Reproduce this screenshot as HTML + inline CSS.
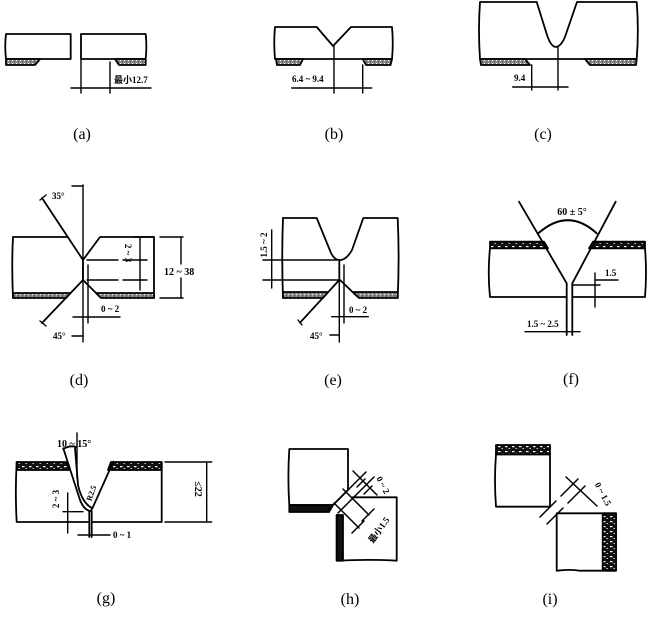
<!DOCTYPE html>
<html><head><meta charset="utf-8"><style>
html,body{margin:0;padding:0;background:#fff;}
svg{display:block;}
.t{font-family:"Liberation Serif","Noto Serif CJK SC",serif;font-size:9px;font-weight:bold;fill:#000;stroke:none;}
.l{font-family:"Liberation Serif",serif;font-size:16px;fill:#000;stroke:none;}
</style></head><body>
<svg width="650" height="617" viewBox="0 0 650 617" xmlns="http://www.w3.org/2000/svg">
<defs>
<pattern id="st" width="4" height="3" patternUnits="userSpaceOnUse"><rect width="4" height="3" fill="#8a8a8a"/><rect x="0" y="0" width="1" height="1" fill="#fff"/><rect x="2" y="1.5" width="1" height="1" fill="#333"/></pattern>
<pattern id="dk" width="7" height="5" patternUnits="userSpaceOnUse"><rect width="7" height="5" fill="#111"/><rect x="1" y="1" width="2.5" height="1.2" fill="#fff"/><rect x="4.5" y="3" width="1.5" height="1" fill="#ccc"/></pattern>
</defs>
<rect width="650" height="617" fill="#fff"/>
<g fill="none" stroke="#000" stroke-width="1.8" stroke-linejoin="round" stroke-linecap="round">

<!-- (a) -->
<path d="M6,34 H70.7 V59 H6 Q4.5,46 6,34 Z"/>
<path d="M81,34 H145.7 Q147,46 145.7,59 H81 Z"/>
<path d="M6,59 H40 L35,65 H6 Z" fill="url(#st)"/>
<path d="M115,59 H145.7 V65 H119 Z" fill="url(#st)"/>
<g stroke-width="1.4">
<path d="M81,60 V93 M110,62 V93 M71,88 H151"/>
</g>

<!-- (b) -->
<path d="M275,27 H316.7 L333,46 L351,27 H392 Q393.5,43 392,59 H275 Q273.5,43 275,27 Z"/>
<path d="M276,59 H303 L300,65 H277 Z" fill="url(#st)"/>
<path d="M362.7,59 H392 L390.5,65 H366 Z" fill="url(#st)"/>
<g stroke-width="1.4">
<path d="M334,46 V93 M362.7,65 V93 M291.7,88 H371.7"/>
</g>

<!-- (c) -->
<path d="M480,2 H536.7 L547,35 Q551,47 556,47 Q562,46 566,34 L577,2 H636.7 Q639,30 636.7,59 H480 Q478,30 480,2 Z"/>
<path d="M480,59 H525 L530,65 H481 Z" fill="url(#st)"/>
<path d="M585,59 H636.7 L636,65 H590 Z" fill="url(#st)"/>
<g stroke-width="1.4">
<path d="M558,47 V90 M531.7,65 V90 M512.7,87 H568"/>
</g>

<!-- (d) -->
<path d="M13,237 H67.8"/>
<path d="M42,198 L83,260 L100,237 H154 V298"/>
<path d="M83,260 V280"/>
<path d="M83,280 L42,323"/>
<path d="M83,280 L100,297"/>
<path d="M13,237 Q11.5,265 13,298"/>
<path d="M13,293 H70.6 L66,298 H13 Z" fill="url(#st)"/>
<path d="M96,293 H154 V298 H101 Z" fill="url(#st)"/>
<g stroke-width="1.4">
<path d="M83,185 V342 M88,265 V323"/>
<path d="M72,186 H83 M72,336 H83"/>
<path d="M40,200 L46,195 M40,321 L46,326"/>
<path d="M87,260 H118 M123,260 H147 M87,280 H118 M123,280 H147"/>
<path d="M140,237 V290 M134,237 H154"/>
<path d="M160,237 H183 M160,298 H183 M181,237 V264 M181,278 V298"/>
<path d="M73,317 H120"/>
</g>

<!-- (e) -->
<path d="M283,218 H316.7 L331,253 Q335,261 341,260 Q347,259 352,250 L363.3,218 H397.7 Q399.5,258 397.7,298"/>
<path d="M283,218 Q281.5,258 283,298"/>
<path d="M339.3,260 V280"/>
<path d="M339.3,280 L300,322.7"/>
<path d="M340,280 L356.7,296"/>
<path d="M283,292 H328 L323,298 H283 Z" fill="url(#st)"/>
<path d="M353,292 H397.7 V298 H359 Z" fill="url(#st)"/>
<g stroke-width="1.4">
<path d="M339.3,260 V342 M344,265 V323"/>
<path d="M263,260 H337 M263,280 H339"/>
<path d="M271.7,230 V288"/>
<path d="M331.7,316.7 H368.3"/>
<path d="M330,335 H339"/>
<path d="M298,320 L302,325"/>
</g>

<!-- (f) -->
<path d="M490,241.7 H544 L548,248.3 H490 Z" fill="url(#dk)"/>
<path d="M593,241.7 H645 V248.3 H589 Z" fill="url(#dk)"/>
<path d="M490,248.3 Q487.5,273 490,297 H566.7 M572.3,297 H645 Q647,273 645,248.3"/>
<path d="M519,201.7 L566.7,283.3 V335 M615.7,201.7 L572.3,283.3 V335"/>
<path d="M538.3,233.3 Q568,207 596.7,233.3" stroke-width="2"/>
<g stroke-width="1.4">
<path d="M595,273 V307 M595,280 H618 M572,285 H600"/>
<path d="M525,331.7 H580"/>
</g>

<!-- (g) -->
<path d="M16.7,462 Q15,492 16.7,522 H88 M93,522 H161.7 V462"/>
<path d="M16.7,462 H66 L69,470 H16.7 Z" fill="url(#dk)"/>
<path d="M111,462 H161.7 V470 H108 Z" fill="url(#dk)"/>
<path d="M63.3,448.3 L80,500 Q84,510 90,511 M113.3,461.7 L93,507 Q91,511 90,511"/>
<path d="M75,448 L78,485 Q82,503 92,508"/>
<path d="M63.3,449 Q70,445 76,447"/>
<path d="M89.3,511 V537 M91.7,511 V537" stroke-width="1.8"/>
<g stroke-width="1.4">
<path d="M77,433 V478"/>
<path d="M78,535 H110"/>
<path d="M67.7,493 V533 M63,511.7 H83"/>
<path d="M165,462 H211.7 M165,522 H211.7 M206.7,462 V522"/>
</g>

<!-- (h) -->
<path d="M289.3,449 H348 V490 L333,505 H289.3 Q287.5,478 289.3,449 Z"/>
<path d="M289.3,505 H333 L329,512 H289.3 Z" fill="#111"/>
<path d="M352.7,497.3 H396.7 V560.7 Q370,559 336.7,560.7 V515"/>
<path d="M336.7,515 H343 V560.7 H336.7 Z" fill="#111"/>
<g stroke-width="1.5">
<path d="M328,510 L366,472 M338,513 L374,477"/>
<path d="M353,471 L377,495"/>
<path d="M343,489 L369,515 M334,503 L359,528"/>
<path d="M362,521 L374,509 M352,533 L364,521"/>
<path d="M357,487 L365,479 M364,494 L372,486"/>
</g>

<!-- (i) -->
<path d="M496,454.3 H550 V506.7 H496 Q494,480 496,454.3 Z"/>
<path d="M496,445 H550 V454.3 H496 Z" fill="url(#dk)"/>
<path d="M556.7,513.3 H616 V570.7 H580 Q570,569 556.7,570.7 Z"/>
<path d="M602.7,513.3 H616 V570.7 H602.7 Z" fill="url(#dk)"/>
<g stroke-width="1.5">
<path d="M540,517 L556,501 M561,496 L578,479"/>
<path d="M547,524 L563,508 M568,503 L585,486"/>
<path d="M566,477 L597,506"/>
</g>
</g>

<!-- text -->
<text class="t" x="114" y="83" style="font-family:'Liberation Serif','Noto Sans CJK SC',sans-serif">最小12.7</text>
<text class="t" x="292" y="82">6.4 ~ 9.4</text>
<text class="t" x="514" y="81">9.4</text>

<text class="t" x="52" y="199">35°</text>
<text class="t" x="53" y="339">45°</text>
<text class="t" transform="rotate(90 128 253)" x="128" y="256" text-anchor="middle">2 ~ 3</text>
<text class="t" x="164" y="275" style="font-size:10px">12 ~ 38</text>
<text class="t" x="101" y="312">0 ~ 2</text>

<text class="t" transform="rotate(-90 264 245)" x="264" y="248" text-anchor="middle">1.5 ~ 2</text>
<text class="t" x="349" y="313">0 ~ 2</text>
<text class="t" x="310" y="339">45°</text>

<text class="t" x="572" y="215" text-anchor="middle" style="font-size:10px">60 ± 5°</text>
<text class="t" x="605" y="276">1.5</text>
<text class="t" x="527" y="327">1.5 ~ 2.5</text>

<text class="t" x="57" y="447" style="font-size:10px">10 ~ 15°</text>
<text class="t" transform="rotate(-70 91 493)" x="91" y="496" text-anchor="middle" style="font-size:8px">R2.5</text>
<text class="t" transform="rotate(-90 56 499)" x="56" y="502" text-anchor="middle">2 ~ 3</text>
<text class="t" x="113" y="538">0 ~ 1</text>
<text class="t" transform="rotate(90 198 489)" x="198" y="492" text-anchor="middle" style="font-size:10px">≤22</text>

<text class="t" transform="rotate(62 383 485)" x="383" y="488" text-anchor="middle">0 ~ 2</text>
<text class="t" transform="rotate(-55 379 530)" x="379" y="533" text-anchor="middle" style="font-family:'Liberation Serif','Noto Sans CJK SC',sans-serif">最小1.5</text>

<text class="t" transform="rotate(62 603 494)" x="603" y="497" text-anchor="middle">0 ~ 1.5</text>

<!-- labels -->
<text class="l" x="82" y="139" text-anchor="middle">(a)</text>
<text class="l" x="334" y="139" text-anchor="middle">(b)</text>
<text class="l" x="543" y="139" text-anchor="middle">(c)</text>
<text class="l" x="79" y="385" text-anchor="middle">(d)</text>
<text class="l" x="333" y="385" text-anchor="middle">(e)</text>
<text class="l" x="571" y="384" text-anchor="middle">(f)</text>
<text class="l" x="106" y="603" text-anchor="middle">(g)</text>
<text class="l" x="350" y="604" text-anchor="middle">(h)</text>
<text class="l" x="550" y="604" text-anchor="middle">(i)</text>
</svg>
</body></html>
